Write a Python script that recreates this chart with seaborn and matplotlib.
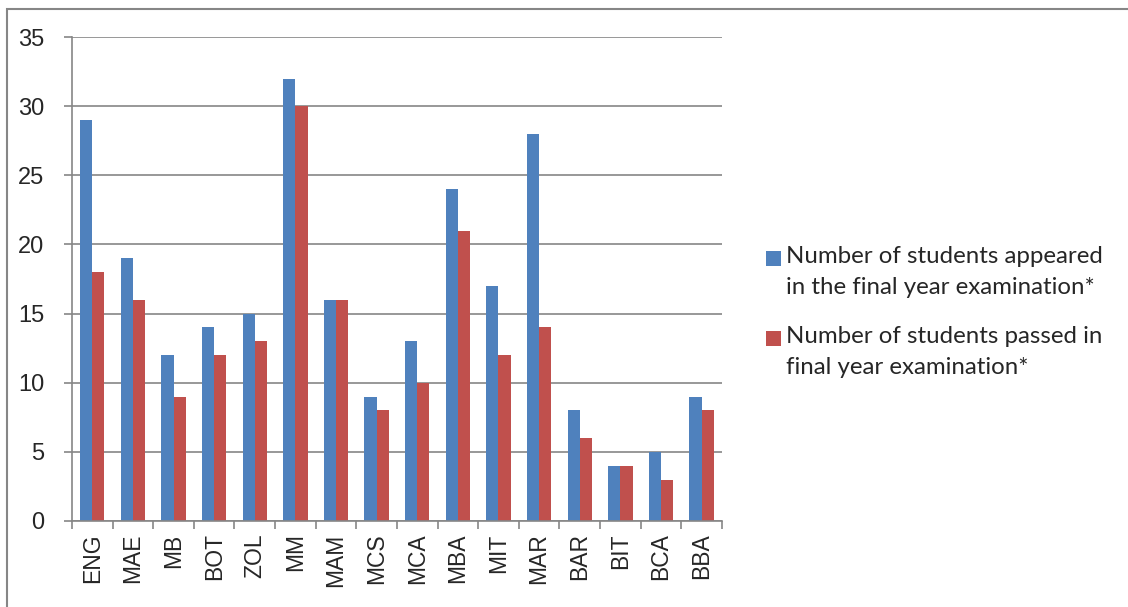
import numpy as np
import pandas as pd
import seaborn as sns
import matplotlib.pyplot as plt
from matplotlib.patches import Rectangle
from matplotlib.ticker import FixedLocator
from matplotlib.legend_handler import HandlerPatch

# data
courses = ['ENG', 'MAE', 'MB', 'BOT', 'ZOL', 'MM', 'MAM', 'MCS',
           'MCA', 'MBA', 'MIT', 'MAR', 'BAR', 'BIT', 'BCA', 'BBA']
appeared = [29, 19, 12, 14, 15, 32, 16, 9, 13, 24, 17, 28, 8, 4, 5, 9]
passed = [18, 16, 9, 12, 13, 30, 16, 8, 10, 21, 12, 14, 6, 4, 3, 8]
series_names = ['Number of students appeared\nin the final year examination*',
                'Number of students passed in\nfinal year examination*']

df = pd.DataFrame({
    'course': courses * 2,
    'value': appeared + passed,
    'series': [series_names[0]] * len(courses) + [series_names[1]] * len(courses),
})


# legend square sitting next to the first text line (like Excel)
class TopSquare(HandlerPatch):
    def create_artists(self, legend, orig_handle, xdescent, ydescent,
                       width, height, fontsize, trans):
        s = 0.6 * fontsize
        p = Rectangle((-xdescent, -ydescent + height - s * 1.0), s, s,
                      facecolor=orig_handle.get_facecolor(),
                      edgecolor='none', transform=trans)
        return [p]


sns.set_theme(style='white')
plt.rcParams['font.family'] = ['Liberation Sans', 'DejaVu Sans']

fig = plt.figure(figsize=(11.28, 6.07), dpi=100)
ax = fig.add_axes([0.0638, 0.1417, 0.5762, 0.7973])

sns.barplot(data=df, x='course', y='value', hue='series', order=courses,
            hue_order=series_names, palette=['#4F81BD', '#C0504D'],
            width=0.6, gap=0, saturation=1, errorbar=None, linewidth=0,
            ax=ax)

# axes styling
ax.set_xlim(-0.5, len(courses) - 0.5)
ax.set_ylim(0, 35)
ax.set_yticks(range(0, 36, 5))
ax.yaxis.grid(True, color='#868686', linewidth=1.2)
ax.set_axisbelow(True)
for s in ['top', 'right']:
    ax.spines[s].set_visible(False)
for s in ['left', 'bottom']:
    ax.spines[s].set_color('#868686')
    ax.spines[s].set_linewidth(1.2)
ax.set_xlabel('')
ax.set_ylabel('')
ax.tick_params(axis='x', which='major', length=0, labelsize=16.5, rotation=90, pad=9)
ax.xaxis.set_minor_locator(FixedLocator(np.arange(-0.5, len(courses), 1)))
ax.tick_params(axis='x', which='minor', length=6, color='#868686', width=1.2,
               bottom=True)
ax.tick_params(axis='y', length=6, color='#868686', width=1.2, labelsize=17,
               left=True, pad=14)

# legend
handles, labels = ax.get_legend_handles_labels()
leg = ax.legend(handles, labels, loc='center left', bbox_to_anchor=(1.035, 0.432),
                frameon=False, prop={'family': 'Lato', 'size': 17.3},
                handlelength=0.6, handleheight=2.4, handletextpad=0.2,
                labelspacing=1.2, handler_map={Rectangle: TopSquare()})
for t in leg.get_texts():
    t.set_linespacing(1.55)

# outer chart border
fig.patches.append(Rectangle((7 / 1128, -0.1), 1.2, 1.1 - 9 / 607,
                             transform=fig.transFigure, fill=False,
                             edgecolor='#868686', linewidth=1.5))

fig.savefig('out.png', dpi=100)
